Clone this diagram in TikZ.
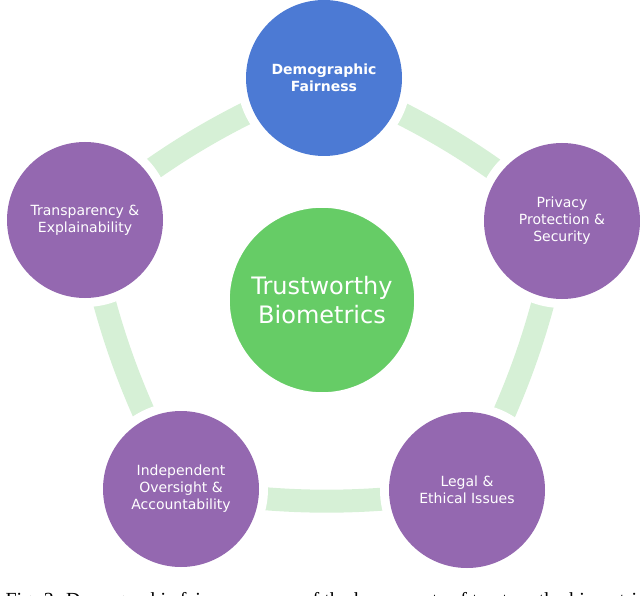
\documentclass[tikz,border=0pt]{standalone}
\usepackage{fontspec}
\setmainfont{DejaVu Sans}
\newfontfamily\capfont{Liberation Serif}
\definecolor{purp}{RGB}{148,104,176}
\definecolor{blu}{RGB}{76,122,212}
\definecolor{grn}{RGB}{102,204,102}
\definecolor{band}{RGB}{214,240,214}
\begin{document}
\begin{tikzpicture}[x=1pt,y=-1pt,
  gap/.style={circle,fill=white,minimum size=174pt,inner sep=0pt},
  lab/.style={text=white,align=center,font=\fontsize{14}{17}\selectfont},
  bnd/.style={draw=band,line width=23pt}]
\useasboundingbox (0,0) rectangle (640,596);
\begin{scope}
\clip (0,0) rectangle (640,596);
\node[font=\capfont\fontsize{20}{24}\selectfont,anchor=west] (cap) at (2,602) {Fig. 3: Demographic fairness as one of the key aspects of trustworthy biometrics};
\end{scope}
\coordinate (t) at (324,78);
\coordinate (r) at (562,221);
\coordinate (br) at (467,490);
\coordinate (bl) at (181,489);
\coordinate (l) at (85,220);
\path[bnd] (t) to[bend left=8] (r);
\path[bnd] (r) to[bend left=8] (br);
\path[bnd] (br) to[bend left=8] (bl);
\path[bnd] (bl) to[bend left=8] (l);
\path[bnd] (l) to[bend left=8] (t);
\foreach \n/\c in {T/t,R/r,BR/br,BL/bl,L/l}{\node[gap] (\n) at (\c) {};}
\foreach \n in {R,BR,BL,L}{\fill[purp] (\n.center) circle (78pt);}
\fill[blu] (T.center) circle (78pt);
\node[lab,font=\bfseries\fontsize{14}{17}\selectfont] (Tt) at (t) {Demographic\\Fairness};
\node[lab] (Rt) at (r) {Privacy\\Protection \&\\Security};
\node[lab] (BRt) at (br) {Legal \&\\Ethical Issues};
\node[lab] (BLt) at (bl) {Independent\\Oversight \&\\Accountability};
\node[lab] (Lt) at (l) {Transparency \&\\Explainability};
\node[circle,draw=white,line width=1.5pt,fill=grn,minimum size=186pt,align=center,text=white,font=\fontsize{24}{29}\selectfont] (C) at (322,300) {Trustworthy\\Biometrics};
\end{tikzpicture}
\end{document}
